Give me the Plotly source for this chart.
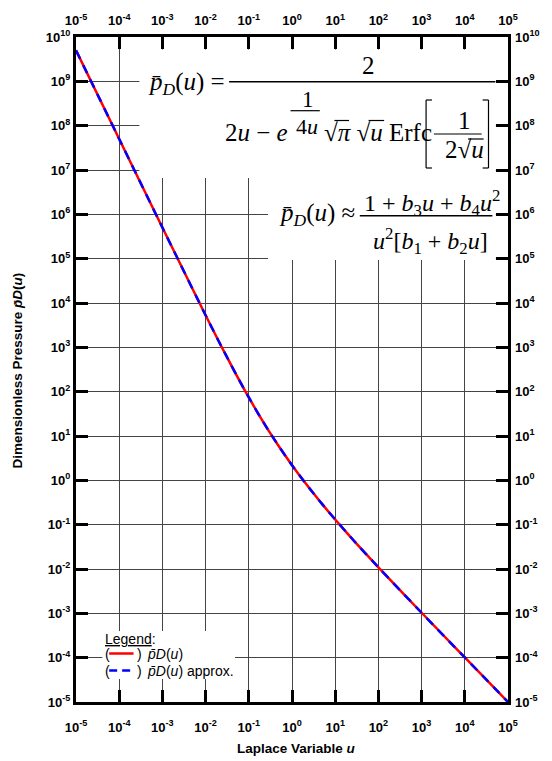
import plotly.graph_objects as go

# Laplace variable u and dimensionless pressure pD(u), exact and approximate
u_vals = [1e-5, 1e-4, 1e-3, 3e-3, 1e-2, 2e-2, 3e-2, 5e-2, 0.1, 0.2, 0.3, 0.5,
          1, 2, 3, 5, 10, 20, 30, 50, 100, 1e3, 1e4, 1e5]
pd_exact = [5.0e9, 5.0e7, 5.03e5, 5.7e4, 5.3e3, 1.39e3, 650, 252, 74, 23.5, 12.4, 5.8,
            2.2, 0.89, 0.54, 0.29, 0.131, 0.0606, 0.039, 0.0226, 0.0109, 1.03e-3, 1.01e-4, 1.0e-5]
pd_approx = [5.0e9, 5.0e7, 5.03e5, 5.7e4, 5.3e3, 1.39e3, 650, 252, 74, 23.4, 12.4, 5.8,
             2.2, 0.89, 0.54, 0.29, 0.131, 0.0607, 0.039, 0.0226, 0.0109, 1.03e-3, 1.01e-4, 1.0e-5]

x_exponents = list(range(-5, 6))
y_exponents = list(range(-5, 11))
x_tickvals = [10.0 ** k for k in x_exponents]
y_tickvals = [10.0 ** k for k in y_exponents]
x_ticktext = [f"<b>10<sup>{k}</sup></b>" for k in x_exponents]
y_ticktext = [f"<b>10<sup>{k}</sup></b>" for k in y_exponents]

W, H = 552, 761
ML, MR, MT, MB = 76, 33, 37, 59
PW = W - ML - MR
PH = H - MT - MB


def px(x):
    return (x - ML) / PW


def py(y):
    return (H - MB - y) / PH


SANS = "Liberation Sans"
SERIF = "Liberation Serif"
PBAR = "p\u0304"

fig = go.Figure()
fig.add_trace(go.Scatter(x=u_vals, y=pd_exact, mode="lines", line_shape="spline",
                         line=dict(color="#ff0000", width=2.5), showlegend=False,
                         hoverinfo="skip"))
fig.add_trace(go.Scatter(x=u_vals, y=pd_approx, mode="lines", line_shape="spline",
                         line=dict(color="#0000ff", width=2.5, dash="9px,7px"),
                         showlegend=False, hoverinfo="skip"))
# companion axes carrying the top and right tick labels
fig.add_trace(go.Scatter(x=[1e-5], y=[1e-5], xaxis="x2", yaxis="y2", mode="markers",
                         marker=dict(opacity=0), showlegend=False, hoverinfo="skip"))

tickfont = dict(family=SANS, size=13, color="black")
common = dict(type="log", autorange=False, zeroline=False, tickfont=tickfont)

fig.update_layout(
    width=W, height=H,
    margin=dict(l=ML, r=MR, t=MT, b=MB),
    paper_bgcolor="white", plot_bgcolor="white",
    xaxis=dict(range=[-5, 5], showline=True, linecolor="black", linewidth=3,
               mirror="ticks", ticks="inside", ticklen=12, tickwidth=3, tickcolor="black",
               showgrid=True, gridcolor="#444444", gridwidth=1,
               tickvals=x_tickvals, ticktext=x_ticktext, ticklabelstandoff=11, **common),
    yaxis=dict(range=[-5, 10], showline=True, linecolor="black", linewidth=3,
               mirror="ticks", ticks="inside", ticklen=12, tickwidth=3, tickcolor="black",
               showgrid=True, gridcolor="#444444", gridwidth=1,
               tickvals=y_tickvals, ticktext=y_ticktext, ticklabelstandoff=0, **common),
    xaxis2=dict(range=[-5, 5], overlaying="x", side="top", anchor="y", showgrid=False,
                showline=False, ticks="", tickvals=x_tickvals, ticktext=x_ticktext,
                ticklabelstandoff=8, **common),
    yaxis2=dict(range=[-5, 10], overlaying="y", side="right", anchor="x", showgrid=False,
                showline=False, ticks="", tickvals=y_tickvals, ticktext=y_ticktext,
                ticklabelstandoff=6, **common),
)

shapes = []


def white_box(x0, y0, x1, y1):
    shapes.append(dict(type="rect", xref="paper", yref="paper", layer="above",
                       x0=px(x0), x1=px(x1), y0=py(y1), y1=py(y0),
                       fillcolor="white", line=dict(width=0)))


def seg(x0, y0, x1, y1, width=1.5, color="black", dash=None):
    ln = dict(color=color, width=width)
    if dash:
        ln["dash"] = dash
    shapes.append(dict(type="line", xref="paper", yref="paper", layer="above",
                       x0=px(x0), x1=px(x1), y0=py(y0), y1=py(y1), line=ln))


annotations = []


def text(x, y, s, size=25, family=SERIF, xanchor="center", yanchor="middle", angle=0):
    annotations.append(dict(x=px(x), y=py(y), xref="paper", yref="paper", text=s,
                            showarrow=False, xanchor=xanchor, yanchor=yanchor,
                            textangle=angle,
                            font=dict(family=family, size=size, color="black")))


# white panels behind the formulas and the legend (kept clear of the tick marks)
white_box(141, 49.5, 506.5, 178)
white_box(273, 178, 506.5, 260)
white_box(103, 631, 239, 679)

# exact expression
text(231, 83, f"<i>{PBAR}</i><sub><i>D</i></sub>(<i>u</i>) =", xanchor="right")
seg(233, 81.7, 506, 81.7)
text(376, 65, "2")
text(295, 132, "2<i>u</i> \u2212 <i>e</i>", xanchor="right")
text(314, 100, "1", size=23)
seg(296, 110.7, 326, 110.7, width=1.2)
text(313, 126, "4<i>u</i>", size=22)
text(328, 132, "\u221a<i>\u03c0</i> \u221a<i>u</i> Erfc", xanchor="left")
seg(341, 120.5, 356, 120.5, width=1.2)
seg(376, 120.5, 392, 120.5, width=1.2)
# brackets around the erfc argument
seg(435, 100, 435, 168, width=1.2)
seg(435, 100, 441, 100, width=1.2)
seg(435, 168, 441, 168, width=1.2)
seg(499, 100, 499, 168, width=1.2)
seg(493, 100, 499, 100, width=1.2)
seg(493, 168, 499, 168, width=1.2)
text(474, 121, "1")
seg(443, 134, 492, 134, width=1.2)
text(474, 150, "2\u221a<i>u</i>")
seg(478, 139, 494, 139, width=1.2)

# rational approximation
text(364, 214, f"<i>{PBAR}</i><sub><i>D</i></sub>(<i>u</i>) \u2248", xanchor="right")
seg(367, 215.7, 503, 215.7)
text(369, 203, "1 + <i>b</i><sub>3</sub><i>u</i> + <i>b</i><sub>4</sub><i>u</i><sup>2</sup>",
     size=24, xanchor="left")
text(378, 241, "<i>u</i><sup>2</sup>[<i>b</i><sub>1</sub> + <i>b</i><sub>2</sub><i>u</i>]",
     size=24, xanchor="left")

# legend
text(104, 639, "<u>Legend</u>:", size=14, family=SANS, xanchor="left")
text(104, 654, "(", size=14, family=SANS, xanchor="left")
seg(110, 653.5, 135, 653.5, width=2.5, color="#ff0000")
text(137, 654, ")", size=14, family=SANS, xanchor="left")
text(147, 654, f"<i>{PBAR}D</i>(<i>u</i>)", size=14, family=SANS, xanchor="left")
text(104, 671, "(", size=14, family=SANS, xanchor="left")
seg(110, 670.5, 135, 670.5, width=2.5, color="#0000ff", dash="8px,5px")
text(137, 671, ")", size=14, family=SANS, xanchor="left")
text(147, 671, f"<i>{PBAR}D</i>(<i>u</i>) approx.", size=14, family=SANS, xanchor="left")

# axis titles
text(302, 748, "<b>Laplace Variable <i>u</i></b>", size=13.5, family=SANS)
text(17, 370, f"<b>Dimensionless Pressure <i>{PBAR}D</i>(<i>u</i>)</b>", size=13.5,
     family=SANS, angle=-90)

fig.update_layout(shapes=shapes, annotations=annotations)
fig.write_html("out.html")
